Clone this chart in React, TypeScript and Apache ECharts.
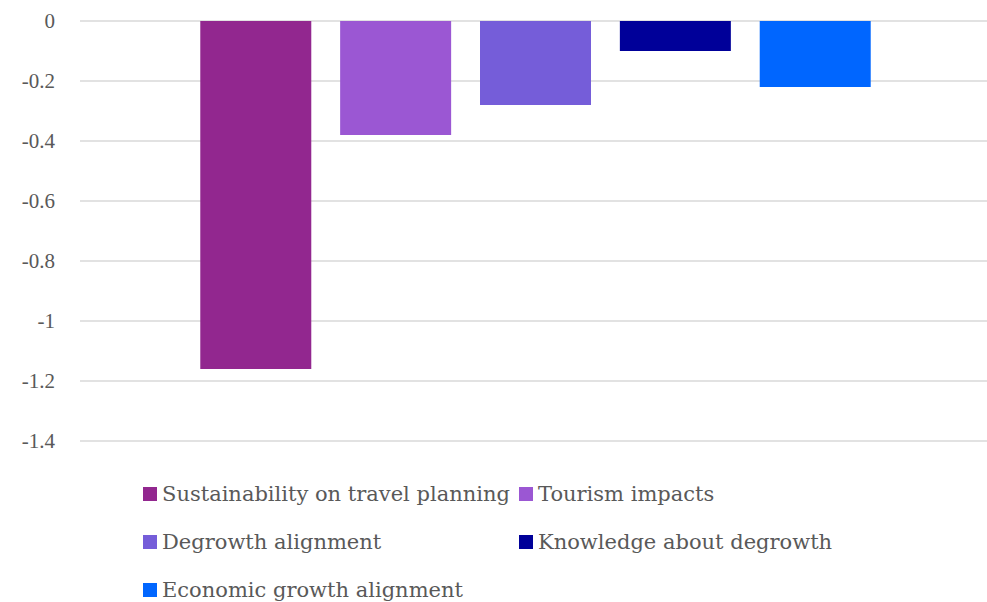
import React, { useEffect, useRef } from "react";
import * as echarts from "echarts";

const seriesNames = [
  "Sustainability on travel planning",
  "Tourism impacts",
  "Degrowth alignment",
  "Knowledge about degrowth",
  "Economic growth alignment",
];
const seriesValues = [-1.16, -0.38, -0.28, -0.1, -0.22];
const seriesColors = ["#92278F", "#9B57D3", "#755DD9", "#000099", "#0066FF"];
const categories = [""];
const yMin = -1.4;
const yMax = 0;
const yStep = 0.2;

const legendPos = [
  { left: 143, row: 0 },
  { left: 519, row: 0 },
  { left: 143, row: 1 },
  { left: 519, row: 1 },
  { left: 143, row: 2 },
];
const legendRowCenters = [494.5, 542.5, 590.5];

export default function App() {
  const ref = useRef<HTMLDivElement>(null);
  useEffect(() => {
    if (!ref.current) return;
    const chart = echarts.init(ref.current, undefined, { renderer: "svg" });
    const legendFont = 21;
    const hiddenX = {
      type: "category",
      data: categories,
      axisLine: { show: false },
      axisTick: { show: false },
      axisLabel: { show: false },
      splitLine: { show: false },
    };
    chart.setOption({
      animation: false,
      backgroundColor: "#ffffff",
      grid: [
        { left: 80, top: 21, right: 0, height: 420, containLabel: false },
        { left: 84, top: 21, right: 0, height: 420, containLabel: false },
      ],
      xAxis: [
        { ...hiddenX, gridIndex: 0 },
        { ...hiddenX, gridIndex: 1 },
      ],
      yAxis: [
        {
          type: "value",
          gridIndex: 0,
          min: yMin,
          max: yMax,
          interval: yStep,
          axisLine: { show: false },
          axisTick: { show: false },
          axisLabel: {
            margin: 25,
            color: "#595959",
            fontFamily: "Liberation Serif",
            fontSize: 21,
            formatter: (v: number) => String(Math.round(v * 10) / 10),
          },
          splitLine: { lineStyle: { color: "#d9d9d9", width: 1.5 } },
        },
        {
          type: "value",
          gridIndex: 1,
          min: yMin,
          max: yMax,
          interval: yStep,
          axisLine: { show: false },
          axisTick: { show: false },
          axisLabel: { show: false },
          splitLine: { show: false },
        },
      ],
      legend: seriesNames.map((name, i) => ({
        data: [name],
        left: legendPos[i].left,
        top: legendRowCenters[legendPos[i].row] - 11,
        padding: 0,
        itemGap: 0,
        itemWidth: 14,
        itemHeight: 14,
        icon: "rect",
        selectedMode: false,
        textStyle: {
          color: "#595959",
          fontFamily: "DejaVu Serif",
          fontSize: legendFont,
        },
      })),
      series: seriesNames.map((name, i) => ({
        name,
        type: "bar",
        xAxisIndex: 1,
        yAxisIndex: 1,
        data: [seriesValues[i]],
        barWidth: 111,
        barGap: "26%",
        itemStyle: { color: seriesColors[i] },
      })),
    });
    return () => chart.dispose();
  }, []);
  return (
    <div
      ref={ref}
      style={{ position: "fixed", left: 0, top: 0, width: 987, height: 602 }}
    />
  );
}
